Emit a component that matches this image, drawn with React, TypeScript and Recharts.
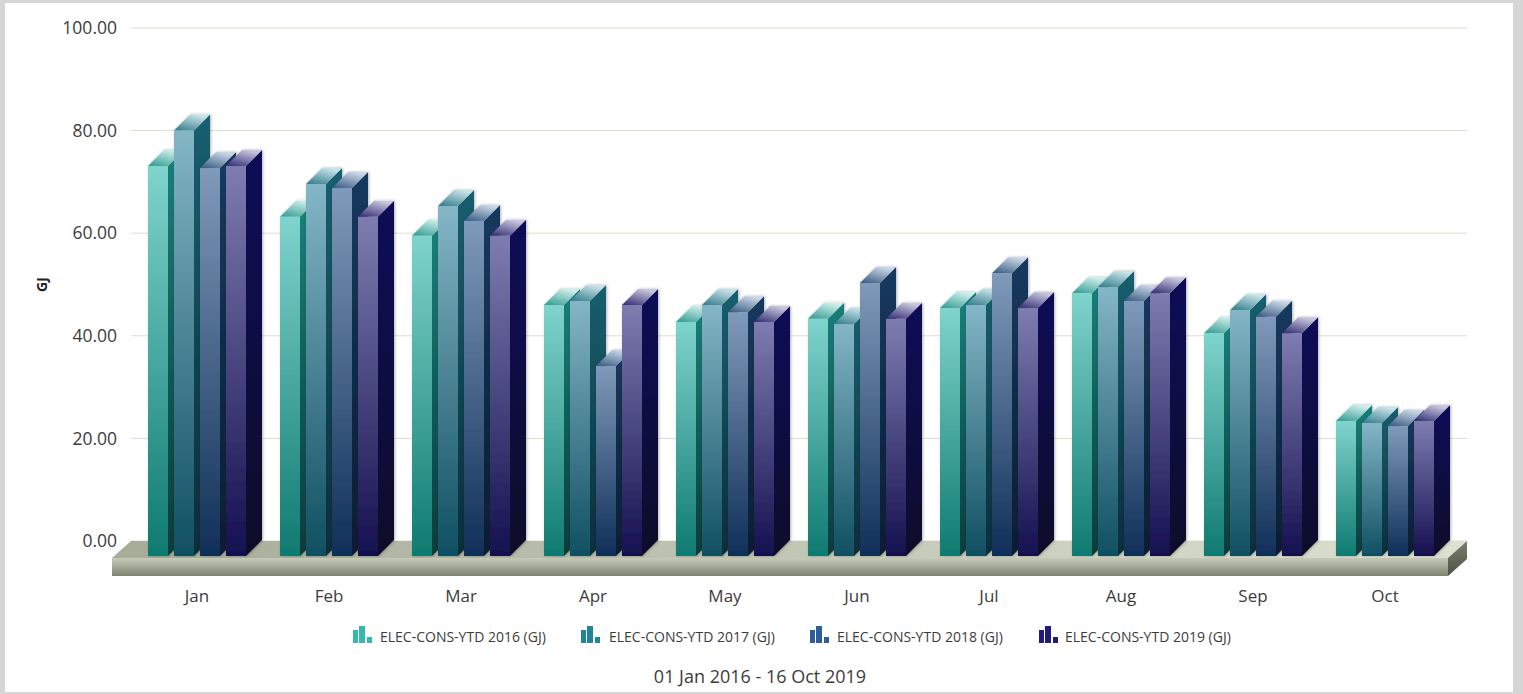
import { BarChart, Bar, XAxis, YAxis, CartesianGrid, Legend, ReferenceArea } from "recharts";

const months = ["Jan", "Feb", "Mar", "Apr", "May", "Jun", "Jul", "Aug", "Sep", "Oct"];
const values2016 = [73.1, 63.2, 59.5, 46.0, 42.7, 43.3, 45.4, 48.3, 40.5, 23.4];
const values2017 = [80.0, 69.6, 65.3, 46.8, 46.0, 42.3, 46.0, 49.5, 45.0, 23.0];
const values2018 = [72.7, 68.8, 62.4, 34.1, 44.6, 50.3, 52.2, 46.8, 43.7, 22.4];
const values2019 = [73.1, 63.2, 59.5, 46.0, 42.7, 43.3, 45.4, 48.3, 40.5, 23.4];
const yTicks = [0, 20, 40, 60, 80, 100];

const seriesNames = [
  "ELEC-CONS-YTD 2016 (GJ)",
  "ELEC-CONS-YTD 2017 (GJ)",
  "ELEC-CONS-YTD 2018 (GJ)",
  "ELEC-CONS-YTD 2019 (GJ)",
];
const seriesKeys = ["y2016", "y2017", "y2018", "y2019"];

// front top/bottom, side top/bottom, roof dark/light, legend icon
const palette = [
  ["#7fd4cc", "#0f7a70", "#15807a", "#0c3a3a", "#2f9a90", "#cdeeea", "#35b9ae"],
  ["#84b6c6", "#0f4f62", "#185f70", "#0a2d38", "#2f7a8a", "#c8e2e8", "#21839c"],
  ["#7f9aba", "#0f2f58", "#16395f", "#0a1d30", "#35587f", "#c8d6e6", "#2b5f9b"],
  ["#7f7cb0", "#141050", "#0b0a58", "#0d0a2a", "#2e2a70", "#c8c6de", "#1f1b80"],
];

const DEPTH = 16;
const FLOOR_DROP = 15;

const rows = months.map((m, i) => ({
  month: m,
  y2016: values2016[i],
  y2017: values2017[i],
  y2018: values2018[i],
  y2019: values2019[i],
}));

function Bar3D(props: any) {
  const { x, y, width, height, idx } = props;
  const bottom = y + height + FLOOR_DROP;
  const r = x + width;
  return (
    <g filter="url(#barShadow)">
      <polygon
        points={`${r},${y} ${r + DEPTH},${y - DEPTH} ${r + DEPTH},${bottom - DEPTH} ${r},${bottom}`}
        fill={`url(#side${idx})`}
      />
      <polygon
        points={`${x},${y} ${x + DEPTH},${y - DEPTH} ${r + DEPTH},${y - DEPTH} ${r},${y}`}
        fill={`url(#roof${idx})`}
      />
      <rect x={x} y={y} width={width} height={bottom - y} fill={`url(#front${idx})`} />
    </g>
  );
}

// The slab the columns stand on, hung off the plot rectangle
function Floor(props: any) {
  const { x, y, width, height } = props;
  const left = x - 19;
  const right = x + width - 3;
  const back = y + height;
  const front = back + 17;
  const low = front + 18;
  return (
    <g>
      <polygon
        points={`${left},${front} ${x},${back} ${right + 19},${back} ${right},${front}`}
        fill="url(#floorTop)"
      />
      <rect x={left} y={front} width={right - left} height={low - front} fill="url(#floorFront)" />
      <polygon
        points={`${right},${front} ${right + 19},${back} ${right + 19},${back + 18} ${right},${low}`}
        fill="url(#floorSide)"
      />
    </g>
  );
}

function GridLine(props: any) {
  const { x1, x2, y1, y2 } = props;
  return <line x1={x1} x2={x2 + 16} y1={y1} y2={y2} stroke="#dbe0cc" strokeWidth={1} />;
}

function LegendIcon({ color }: { color: string }) {
  return (
    <svg width={20} height={20} style={{ display: "block" }}>
      <rect x={0} y={4} width={5} height={13} fill={color} />
      <rect x={6} y={0} width={6} height={17} fill={color} />
      <rect x={14} y={11} width={5} height={6} fill={color} />
    </svg>
  );
}

const legendLeft = [353, 581, 810, 1039];
const legendGap = [7, 8, 7, 6];

function ChartLegend() {
  return (
    <div style={{ position: "relative", width: 1523, height: 24 }}>
      {seriesNames.map((name, i) => (
        <div key={name} style={{ position: "absolute", left: legendLeft[i], top: 0, display: "flex", alignItems: "center", height: 24 }}>
          <LegendIcon color={palette[i][6]} />
          <span style={{ marginLeft: legendGap[i], fontSize: 14, color: "#3c3c3c", whiteSpace: "nowrap" }}>{name}</span>
        </div>
      ))}
    </div>
  );
}

export default function App() {
  return (
    <div style={{ position: "relative", width: 1523, height: 694, overflow: "hidden", fontFamily: "'Open Sans', sans-serif" }}>
      <style>{"body{margin:0}"}</style>
      <div
        style={{
          position: "absolute", inset: 0, boxSizing: "border-box", background: "#fff",
          borderTop: "3px solid #d6d6d6", borderLeft: "5px solid #d6d6d6",
          borderRight: "10px solid #d6d6d6", borderBottom: "2px solid #d6d6d6",
        }}
      />
      <div style={{ position: "absolute", left: 0, top: 0 }}>
        <BarChart
          width={1523}
          height={694}
          data={rows}
          barSize={20}
          barGap={6}
          margin={{ top: 28, right: 72, bottom: 93, left: 0 }}
        >
          <defs>
            {palette.map((p, i) => (
              <g key={i}>
                <linearGradient id={`front${i}`} x1="0" y1="0" x2="0" y2="1">
                  <stop offset="0%" stopColor={p[0]} />
                  <stop offset="100%" stopColor={p[1]} />
                </linearGradient>
                <linearGradient id={`side${i}`} x1="0" y1="0" x2="0" y2="1">
                  <stop offset="0%" stopColor={p[2]} />
                  <stop offset="100%" stopColor={p[3]} />
                </linearGradient>
                <linearGradient id={`roof${i}`} x1="0" y1="1" x2="0.6" y2="0">
                  <stop offset="0%" stopColor={p[4]} />
                  <stop offset="100%" stopColor={p[5]} />
                </linearGradient>
              </g>
            ))}
            <linearGradient id="floorTop" x1="0" y1="0" x2="1" y2="0">
              <stop offset="0%" stopColor="#a6ac98" />
              <stop offset="100%" stopColor="#dce1d1" />
            </linearGradient>
            <linearGradient id="floorFront" x1="0" y1="0" x2="0" y2="1">
              <stop offset="0%" stopColor="#c6cbb9" />
              <stop offset="100%" stopColor="#7d8272" />
            </linearGradient>
            <linearGradient id="floorSide" x1="0" y1="0" x2="0" y2="1">
              <stop offset="0%" stopColor="#7a806c" />
              <stop offset="100%" stopColor="#4c5142" />
            </linearGradient>
            <filter id="barShadow" x="-30%" y="-10%" width="160%" height="120%">
              <feDropShadow dx="1" dy="0" stdDeviation="1.5" floodColor="#000" floodOpacity="0.3" />
            </filter>
          </defs>
          <CartesianGrid vertical={false} horizontal={(p: any) => <GridLine key={p.key} {...p} />} />
          <XAxis
            dataKey="month"
            axisLine={false}
            tickLine={false}
            height={60}
            interval={0}
            tickMargin={43}
            tick={{ fontSize: 17, fill: "#3c3c3c" }}
          />
          <YAxis
            domain={[0, 100]}
            ticks={yTicks}
            width={131}
            axisLine={false}
            tickLine={false}
            tickMargin={8}
            tickFormatter={(v: number) => v.toFixed(2)}
            tick={{ fontSize: 17.5, fill: "#3c3c3c" }}
            label={{ value: "GJ", angle: -90, position: "insideLeft", offset: 42, style: { fontSize: 14, fontWeight: 700, fill: "#222", textAnchor: "middle" } }}
          />
          <ReferenceArea y1={0} y2={100} ifOverflow="visible" shape={(p: any) => <Floor {...p} />} />
          <Legend verticalAlign="middle" content={() => <ChartLegend />} wrapperStyle={{ left: 0, top: 624, width: 1523 }} />
          {seriesKeys.map((k, i) => (
            <Bar
              key={k}
              dataKey={k}
              name={seriesNames[i]}
              fill={palette[i][6]}
              isAnimationActive={false}
              shape={(p: any) => <Bar3D {...p} idx={i} />}
            />
          ))}
        </BarChart>
      </div>
      <div style={{ position: "absolute", left: 0, width: 1520, top: 664, textAlign: "center", fontSize: 18, color: "#3c3c3c" }}>
        01 Jan 2016 - 16 Oct 2019
      </div>
    </div>
  );
}
